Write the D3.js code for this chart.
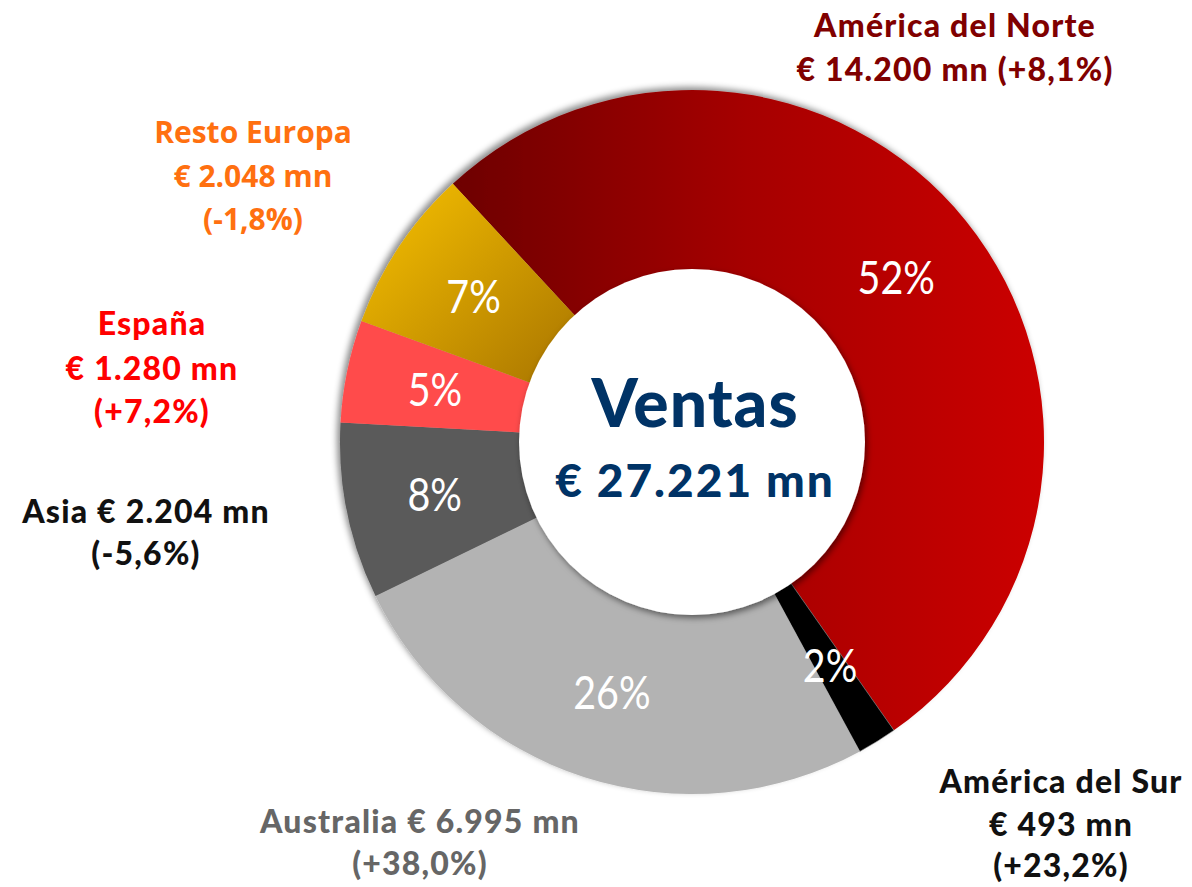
<!DOCTYPE html>
<html>
<head>
<meta charset="utf-8">
<script src="https://cdn.jsdelivr.net/npm/d3@7"></script>
<style>
  html, body { margin: 0; padding: 0; background: #fff; }
  svg { display: block; }
</style>
</head>
<body>
<svg id="chart" width="1192" height="887"></svg>
<script>
// ---- data ----
const regions = ["América del Norte", "América del Sur", "Australia", "Asia", "España", "Resto Europa"];
const sales = [14200, 493, 6995, 2204, 1280, 2048];           // € mn
const growth = ["+8,1%", "+23,2%", "+38,0%", "-5,6%", "+7,2%", "-1,8%"];
const shareLabels = ["52%", "2%", "26%", "8%", "5%", "7%"];
const centerTitle = "Ventas";
const totalSales = 27221;

// ---- layout / style ----
const W = 1192, H = 887;
const cx = 692, cy = 442, R = 352, r = 173;
const startAngle = -42.8 * Math.PI / 180;

const fillColors = ["url(#gNorte)", "#000000", "#b3b3b3", "#5a5a5a", "#ff4b4b", "url(#gEuropa)"];
const labelColors = ["#800000", "#111111", "#666666", "#111111", "#ff0000", "#ff7010"];

const loc = d3.formatLocale({decimal: ",", thousands: ".", grouping: [3], currency: ["€ ", ""]});
const fmt = loc.format("$,.0f");

const futura = {font: "Lato", size: 32, weight: 900, spacing: 1.2};
const calibri = {font: "Open Sans", size: 30, weight: 700, spacing: 0};

const labelLayout = [
  {x: 955, ys: [37, 81], lines: (i) => [regions[i], fmt(sales[i]) + " mn (" + growth[i] + ")"], st: futura},
  {x: 1061, ys: [793, 836, 877], lines: (i) => [regions[i], fmt(sales[i]) + " mn", "(" + growth[i] + ")"], st: futura},
  {x: 420, ys: [833, 875], lines: (i) => [regions[i] + " " + fmt(sales[i]) + " mn", "(" + growth[i] + ")"], st: futura},
  {x: 146, ys: [523, 565], lines: (i) => [regions[i] + " " + fmt(sales[i]) + " mn", "(" + growth[i] + ")"], st: futura},
  {x: 152, ys: [335, 380, 423], lines: (i) => [regions[i], fmt(sales[i]) + " mn", "(" + growth[i] + ")"], st: futura},
  {x: 253, ys: [143, 187, 230], lines: (i) => [regions[i], fmt(sales[i]) + " mn", "(" + growth[i] + ")"], st: calibri}
];

const svg = d3.select("#chart");
const defs = svg.append("defs");

// gradient coordinates are in the translated (centre-origin) space
const gN = defs.append("linearGradient").attr("id", "gNorte")
  .attr("gradientUnits", "userSpaceOnUse")
  .attr("x1", -245).attr("y1", 0).attr("x2", 353).attr("y2", 0);
gN.append("stop").attr("offset", 0).attr("stop-color", "#6c0000");
gN.append("stop").attr("offset", 0.5).attr("stop-color", "#a60000");
gN.append("stop").attr("offset", 1).attr("stop-color", "#cc0000");

const gE = defs.append("linearGradient").attr("id", "gEuropa")
  .attr("x1", 0).attr("y1", 0).attr("x2", 1).attr("y2", 1);
gE.append("stop").attr("offset", 0).attr("stop-color", "#f8c200");
gE.append("stop").attr("offset", 1).attr("stop-color", "#a87400");

const f1 = defs.append("filter").attr("id", "outerShadow")
  .attr("x", -0.1).attr("y", -0.1).attr("width", 1.2).attr("height", 1.2);
f1.append("feDropShadow").attr("dx", -3).attr("dy", -3).attr("stdDeviation", 3)
  .attr("flood-color", "#000").attr("flood-opacity", 0.45);

const f2 = defs.append("filter").attr("id", "innerShadow")
  .attr("x", -0.2).attr("y", -0.2).attr("width", 1.4).attr("height", 1.4);
f2.append("feDropShadow").attr("dx", 2).attr("dy", 3).attr("stdDeviation", 3)
  .attr("flood-color", "#000").attr("flood-opacity", 0.5);

const pie = d3.pie().sort(null).value(d => d)
  .startAngle(startAngle).endAngle(startAngle + 2 * Math.PI);
const arcs = pie(sales);
const arc = d3.arc().innerRadius(r - 5).outerRadius(R);
const labelArc = d3.arc().innerRadius((R + r) / 2).outerRadius((R + r) / 2);

const g = svg.append("g").attr("transform", `translate(${cx},${cy})`);

g.append("g").attr("filter", "url(#outerShadow)")
  .selectAll("path").data(arcs).join("path")
  .attr("d", arc)
  .attr("fill", (d, i) => fillColors[i])
  .attr("stroke", (d, i) => i === 1 ? "#888" : "none")
  .attr("stroke-width", 0.6);

g.append("circle").attr("r", r).attr("fill", "#fff").attr("filter", "url(#innerShadow)");

// share labels
g.selectAll("text.share").data(arcs).join("text")
  .attr("class", "share")
  .attr("transform", d => { const [x, y] = labelArc.centroid(d); return `translate(${x},${y}) scale(0.84,1)`; })
  .attr("text-anchor", "middle")
  .attr("dy", "0.36em")
  .attr("font-family", "Lato, sans-serif")
  .attr("font-weight", 400)
  .attr("font-size", 47)
  .attr("fill", "#fff")
  .text((d, i) => shareLabels[i]);

// center text
g.append("text").attr("x", 3).attr("y", 427 - cy)
  .attr("text-anchor", "middle")
  .attr("font-family", "Lato, sans-serif").attr("font-weight", 900)
  .attr("font-size", 66).attr("letter-spacing", 1).attr("fill", "#003366")
  .text(centerTitle);
g.append("text").attr("x", 3).attr("y", 497 - cy)
  .attr("text-anchor", "middle")
  .attr("font-family", "Lato, sans-serif").attr("font-weight", 900)
  .attr("font-size", 46).attr("letter-spacing", 2).attr("fill", "#003366")
  .text(fmt(totalSales) + " mn");

// region labels
regions.forEach((reg, i) => {
  const L = labelLayout[i];
  const t = svg.append("text")
    .attr("text-anchor", "middle")
    .attr("font-family", L.st.font + ", sans-serif")
    .attr("font-weight", L.st.weight)
    .attr("font-size", L.st.size)
    .attr("letter-spacing", L.st.spacing)
    .attr("fill", labelColors[i]);
  L.lines(i).forEach((line, k) => {
    t.append("tspan").attr("x", L.x).attr("y", L.ys[k]).text(line);
  });
});
</script>
</body>
</html>
